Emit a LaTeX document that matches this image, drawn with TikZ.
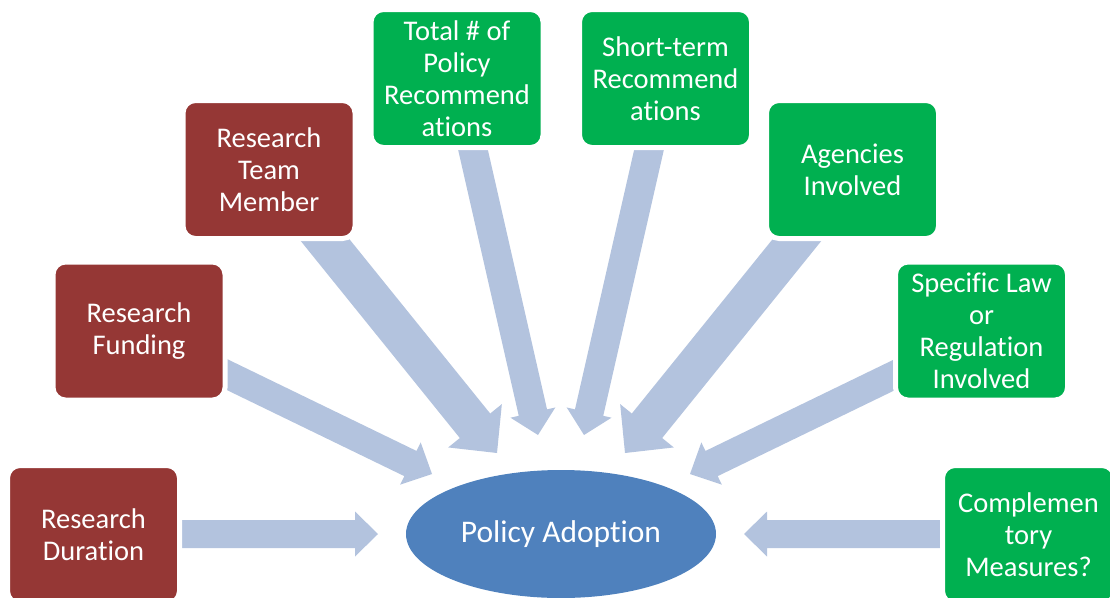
\documentclass[tikz,border=0pt]{standalone}
\usepackage{fontspec}
\setmainfont[Ligatures=NoCommon,RawFeature={-liga;-calt;-clig}]{Carlito}
\usetikzlibrary{calc,shapes.geometric}

\definecolor{factorred}{HTML}{953735}
\definecolor{factorgreen}{HTML}{00B050}
\definecolor{hubblue}{HTML}{4F81BD}
\definecolor{flowblue}{HTML}{B3C3DE}

% block arrow: #1 tail, #2 tip, #3 half shaft width, #4 half head width, #5 head length
\newcommand{\blockarrow}[5]{%
  \path ($(#2)!#5!(#1)$) coordinate (bah);
  \fill[flow] ($(#1)!#3!90:(#2)$) -- ($(bah)!#3!90:(#2)$) -- ($(bah)!#4!90:(#2)$)
    -- (#2) -- ($(bah)!#4!-90:(#2)$) -- ($(bah)!#3!-90:(#2)$)
    -- ($(#1)!#3!-90:(#2)$) -- cycle;}

\tikzset{
  factor/.style={minimum width=172pt, minimum height=138pt, inner sep=0pt,
    draw=white, line width=5pt, rounded corners=12.5pt, align=center,
    text=white, font=\fontsize{28.5}{32}\selectfont},
  redbox/.style={factor, fill=factorred},
  greenbox/.style={factor, fill=factorgreen},
  hub/.style={ellipse, fill=hubblue, minimum width=310pt, minimum height=128pt,
    inner sep=0pt, text=white, font=\fontsize{31.5}{36}\selectfont},
  flow/.style={fill=flowblue}
}

\begin{document}
\begin{tikzpicture}[x=1pt,y=-1pt]
\useasboundingbox (0,0) rectangle (1110,597);
\clip (0,0) rectangle (1110,597);

% arrow tails (inside the boxes) and tips (around the hub)
\coordinate (t-dur)   at (170,534);   \coordinate (p-dur)   at (378,534);
\coordinate (t-fund)  at (214.5,368.5); \coordinate (p-fund) at (432,474);
\coordinate (t-team)  at (312.4,224.4); \coordinate (p-team) at (497,453);
\coordinate (t-total) at (468.6,130.5); \coordinate (p-total) at (538,435);
\coordinate (t-short) at (653.4,130.5); \coordinate (p-short) at (584,435);
\coordinate (t-agency) at (809.6,224.4); \coordinate (p-agency) at (625,453);
\coordinate (t-law)   at (907.5,368.5); \coordinate (p-law)  at (690,474);
\coordinate (t-comp)  at (952,534);   \coordinate (p-comp)  at (744,534);

% arrows
\blockarrow{t-dur}{p-dur}{14pt}{22.5pt}{23pt}
\blockarrow{t-fund}{p-fund}{14pt}{23.5pt}{24pt}
\blockarrow{t-team}{p-team}{19.5pt}{34.5pt}{35pt}
\blockarrow{t-total}{p-total}{14.5pt}{23pt}{23pt}
\blockarrow{t-short}{p-short}{14.5pt}{23pt}{23pt}
\blockarrow{t-agency}{p-agency}{19.5pt}{34.5pt}{35pt}
\blockarrow{t-law}{p-law}{14pt}{23.5pt}{24pt}
\blockarrow{t-comp}{p-comp}{14pt}{22.5pt}{23pt}

% factor boxes
\node[redbox] (dur) at (93.5,534.5) {Research\\Duration};
\node[redbox] (fund) at (139,331) {Research\\Funding};
\node[redbox] (team) at (269,169.5) {Research\\Team\\Member};
\node[greenbox] (total) at (457,78.5) {Total \# of\\Policy\\Recommend\\ations};
\node[greenbox] (short) at (665.5,78.5) {Short-term\\Recommend\\ations};
\node[greenbox] (agency) at (852.5,169.5) {Agencies\\Involved};
\node[greenbox] (law) at (981.5,331) {Specific Law\\or\\Regulation\\Involved};
\node[greenbox] (comp) at (1028.5,534.5) {Complemen\\tory\\Measures?};

% central outcome
\node[hub] (adopt) at (561,534) {Policy Adoption};
\end{tikzpicture}
\end{document}
